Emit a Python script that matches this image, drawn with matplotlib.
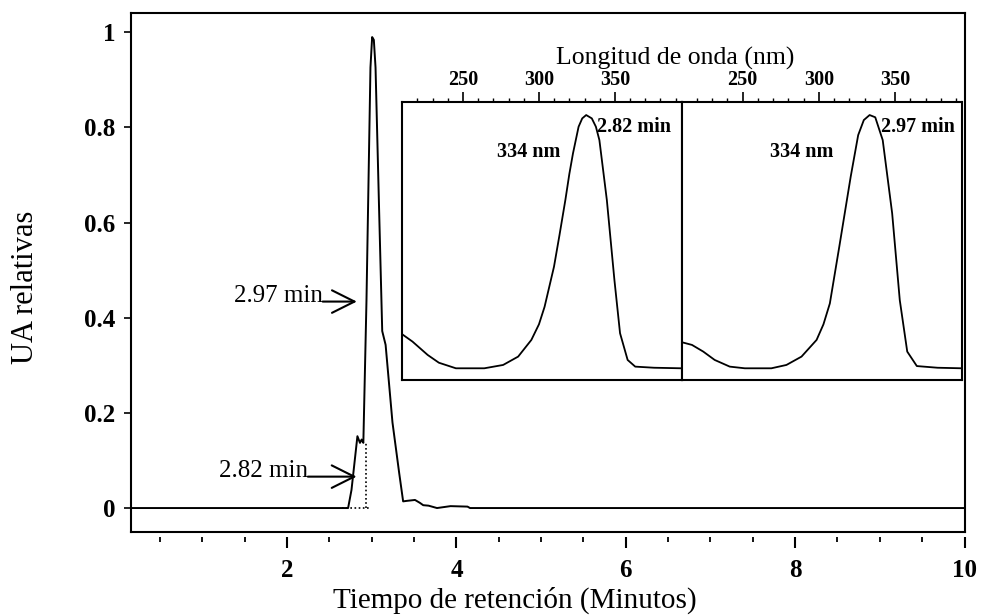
import matplotlib
matplotlib.use("Agg")
import matplotlib.pyplot as plt
from matplotlib.ticker import FixedLocator

plt.rcParams['font.family'] = ['Liberation Serif', 'DejaVu Serif']

# chromatogram
tiempo = [0.15, 2.72, 2.76, 2.83, 2.86, 2.88, 2.90, 2.937, 2.984, 3.004, 3.024,
          3.044, 3.084, 3.123, 3.163, 3.244, 3.323, 3.37, 3.41, 3.51, 3.567,
          3.607, 3.67, 3.77, 3.93, 4.13, 4.16, 10.0]
ua = [0.0, 0.0, 0.038, 0.151, 0.137, 0.144, 0.137, 0.436, 0.926, 0.990, 0.984,
      0.926, 0.642, 0.372, 0.343, 0.180, 0.074, 0.014, 0.015, 0.017, 0.011,
      0.006, 0.005, 0.0, 0.004, 0.003, 0.0, 0.0]

# UV spectra of the two peaks
nm_a = [210, 216.7, 226.7, 234.1, 245.3, 264, 276.4, 286.3, 295, 300, 303.7,
        309.9, 313.5, 317.4, 320, 322.4, 326.1, 328.5, 331.1, 334.8, 337.5,
        339.8, 344.7, 349.7, 353.4, 358.4, 363.4, 375.8, 394]
abs_a = [0.164, 0.138, 0.090, 0.062, 0.042, 0.042, 0.054, 0.084, 0.144, 0.200,
         0.263, 0.407, 0.520, 0.647, 0.740, 0.814, 0.910, 0.940, 0.952, 0.940,
         0.910, 0.862, 0.647, 0.359, 0.168, 0.072, 0.048, 0.044, 0.042]
nm_b = [210.5, 216.7, 224.1, 231.6, 241.5, 251.4, 268.8, 278.7, 288.6, 298.5,
        303, 307.2, 313.4, 320.9, 325.8, 329.5, 333.3, 337, 341.9, 348.1, 353.1,
        358, 364.3, 377.9, 394]
abs_b = [0.135, 0.126, 0.102, 0.072, 0.048, 0.042, 0.042, 0.054, 0.084, 0.144,
         0.200, 0.275, 0.479, 0.731, 0.880, 0.934, 0.952, 0.944, 0.862, 0.599,
         0.287, 0.102, 0.050, 0.044, 0.042]

yticks = [0, 0.2, 0.4, 0.6, 0.8, 1]
ylabels = ['0', '0.2', '0.4', '0.6', '0.8', '1']
xticks = [2, 4, 6, 8, 10]
xminor = [0.5, 1, 1.5, 2.5, 3, 3.5, 4.5, 5, 5.5, 6.5, 7, 7.5, 8.5, 9, 9.5]

fig = plt.figure(figsize=(9.85, 6.15), dpi=100)
ax = fig.add_axes([130.5/985, 1 - 532.3/615, 834/985, 519.5/615])

ax.plot(tiempo, ua, color='black', lw=1.4)
dots = (0, (1, 1.5))
ax.plot([2.926, 2.926], [0, 0.136], color='black', lw=1.2, ls=dots)
ax.plot([2.643, 2.977], [0, 0], color='black', lw=1.2, ls=dots)

ax.set_xlim(0.15, 10)
ax.set_ylim(-0.051, 1.041)
for s in ax.spines.values():
    s.set_linewidth(1.5)

ax.set_yticks(yticks, labels=ylabels, fontweight='bold')
ax.tick_params(axis='y', direction='out', length=5, width=1.2, pad=6, labelsize=18)
ax.tick_params(axis='x', bottom=False, labelbottom=False)

sec = ax.secondary_xaxis(-0.0085)
sec.spines['bottom'].set_visible(False)
sec.set_xticks(xticks, labels=[str(v) for v in xticks], fontweight='bold')
sec.xaxis.set_minor_locator(FixedLocator(xminor))
sec.tick_params(which='major', direction='out', length=8, width=1.5, pad=8, labelsize=18)
sec.tick_params(which='minor', direction='out', length=3.6, width=1.3)

# arrows to the peaks
arr = dict(arrowstyle='->,head_length=0.9,head_width=0.45', lw=1.5, color='black',
           shrinkA=0, shrinkB=0, mutation_scale=18)
ax.annotate('', xy=(2.823, 0.434), xytext=(2.42, 0.434), arrowprops=arr)
ax.text(2.42, 0.434, '2.97 min', ha='right', va='baseline', fontsize=18)
ax.annotate('', xy=(2.82, 0.066), xytext=(2.245, 0.066), arrowprops=arr)
ax.text(2.245, 0.066, '2.82 min', ha='right', va='baseline', fontsize=18)

# inset spectra
panels = [([0.3259, 0.2932, 0.335, 0.5357], nm_a, abs_a, '2.82 min', 293.2, 338.5),
          ([0.661, 0.2932, 0.3361, 0.5357], nm_b, abs_b, '2.97 min', 288.6, 340.7)]
for pos, nm, ab, lab, x_nm, x_lab in panels:
    ins = ax.inset_axes(pos)
    ins.set_facecolor('white')
    ins.plot(nm, ab, color='black', lw=1.3)
    ins.set_xlim(210, 394)
    ins.set_ylim(0, 1)
    ins.set_yticks([])
    ins.xaxis.tick_top()
    ins.set_xticks([250, 300, 350], labels=['250', '300', '350'], fontweight='bold')
    ins.xaxis.set_minor_locator(FixedLocator(range(220, 400, 10)))
    ins.tick_params(which='major', direction='out', length=7, width=1.2, pad=1.5, labelsize=14.5)
    ins.tick_params(which='minor', direction='out', length=3, width=1.0)
    for s in ins.spines.values():
        s.set_linewidth(1.5)
    ins.text(x_nm, 0.82, '334 nm', ha='center', va='center', fontsize=14.5, fontweight='bold')
    ins.text(x_lab, 0.91, lab, ha='left', va='center', fontsize=14.5, fontweight='bold')

ax.text(0.6526, 0.913, 'Longitud de onda (nm)', transform=ax.transAxes,
        ha='center', va='center', fontsize=18.5)

fig.text(515/985, 1 - 608/615, 'Tiempo de retención (Minutos)', ha='center',
         va='baseline', fontsize=21)
fig.text(26/985, 1 - 287.5/615, 'UA relativas', rotation=90, ha='center',
         va='center', fontsize=22)

fig.savefig('out.png', dpi=100)
